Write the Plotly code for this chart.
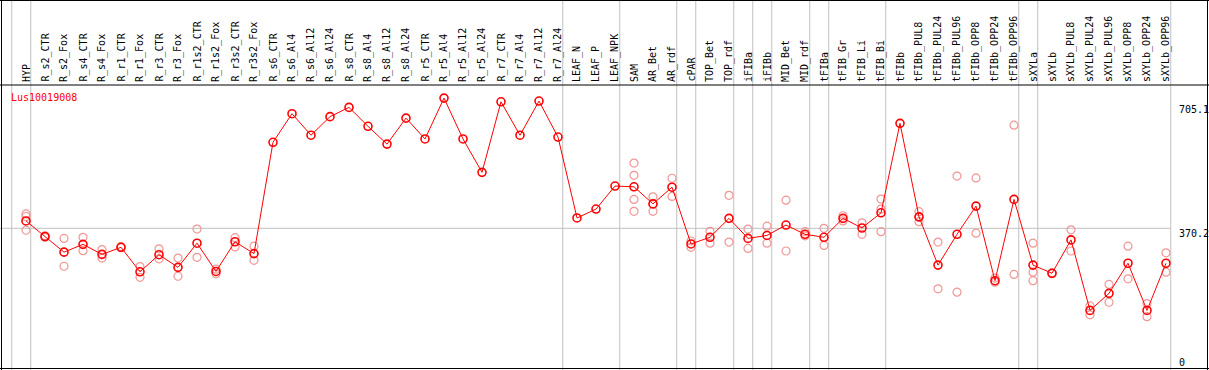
import plotly.graph_objects as go

categories = ["HYP", "R_s2_CTR", "R_s2_Fox", "R_s4_CTR", "R_s4_Fox", "R_r1_CTR", "R_r1_Fox",
              "R_r3_CTR", "R_r3_Fox", "R_r1s2_CTR", "R_r1s2_Fox", "R_r3s2_CTR", "R_r3s2_Fox",
              "R_s6_CTR", "R_s6_Al4", "R_s6_Al12", "R_s6_Al24", "R_s8_CTR", "R_s8_Al4",
              "R_s8_Al12", "R_s8_Al24", "R_r5_CTR", "R_r5_Al4", "R_r5_Al12", "R_r5_Al24",
              "R_r7_CTR", "R_r7_Al4", "R_r7_Al12", "R_r7_Al24", "LEAF_N", "LEAF_P", "LEAF_NPK",
              "SAM", "AR_Bet", "AR_rdf", "cPAR", "TOP_Bet", "TOP_rdf", "iFIBa", "iFIBb",
              "MID_Bet", "MID_rdf", "tFIBa", "tFIB_Gr", "tFIB_Li", "tFIB_Bi", "tFIBb",
              "tFIBb_PUL8", "tFIBb_PUL24", "tFIBb_PUL96", "tFIBb_OPP8", "tFIBb_OPP24",
              "tFIBb_OPP96", "sXYLa", "sXYLb", "sXYLb_PUL8", "sXYLb_PUL24", "sXYLb_PUL96",
              "sXYLb_OPP8", "sXYLb_OPP24", "sXYLb_OPP96"]

means = [390, 348, 306, 327, 300, 319, 253, 299, 265, 330, 254, 334, 302,
         602, 679, 621, 671, 696, 645, 597, 667, 611, 721, 611, 521, 711, 621, 713, 616,
         398, 422, 484, 482, 436, 481, 328, 346, 397, 343, 351, 379, 354, 346, 397, 371,
         412, 653, 401, 271, 354, 430, 229, 448, 271, 249, 339, 149, 195, 276, 149, 276]

replicates = [[409, 402, 365], [346, 350], [343, 268], [346, 310], [313, 290], [318, 321],
              [267, 238], [315, 288], [290, 241], [368, 292], [260, 248], [345, 320],
              [322, 284],
              [], [], [], [], [], [], [], [], [], [], [], [], [], [], [], [],
              [], [], [],
              [546, 513, 448, 416], [455, 416, 436], [505, 456], [319, 336], [362, 330],
              [459, 333], [368, 316], [376, 330], [446, 309], [361, 350], [370, 324],
              [390, 404], [385, 354], [449, 422, 361], [],
              [415, 388, 400], [333, 207], [511, 198], [506, 357], [236, 225], [648, 246],
              [330, 252, 229], [248, 250], [366, 309], [161, 137], [219, 171], [322, 234],
              [167, 132], [304, 252]]

gene_name = "Lus10019008"
axis_ticks = [705.1, 370.2, 0]
group_breaks = [-1, 0, 28, 31, 34, 35, 37, 38, 39, 41, 42, 45, 52, 53, 60]

W, H = 1209, 370
TOP = 85
x_idx = list(range(len(categories)))

rep_x, rep_y = [], []
for i, reps in enumerate(replicates):
    for v in reps:
        rep_x.append(i)
        rep_y.append(v)

fig = go.Figure()
fig.add_trace(go.Scatter(x=rep_x, y=rep_y, mode="markers",
                         marker=dict(symbol="circle-open", size=8, color="rgb(240,150,150)",
                                     line=dict(width=1.2, color="rgb(240,150,150)")),
                         hoverinfo="skip", showlegend=False))
fig.add_trace(go.Scatter(x=x_idx, y=means, mode="lines+markers",
                         line=dict(color="#ff0000", width=1),
                         marker=dict(symbol="circle-open", size=8, color="#ff0000",
                                     line=dict(width=1.6, color="#ff0000")),
                         showlegend=False))

px_per_cat = 19.0
x0 = -26.0 / px_per_cat
x1 = x0 + W / px_per_cat
zero_px = 365.7
px_per_unit = (zero_px - 228.3) / 370.2
y_top = (zero_px - TOP) / px_per_unit
y_bot = (zero_px - H) / px_per_unit

shapes = []
ytop_paper = H / (H - TOP)
for b in group_breaks:
    shapes.append(dict(type="line", xref="x", yref="paper", x0=b + 0.25, x1=b + 0.25,
                       y0=0, y1=ytop_paper, line=dict(color="#c0c0c0", width=1), layer="below"))
shapes.append(dict(type="line", xref="x", yref="y", x0=x0, x1=group_breaks[-1] + 0.25,
                   y0=axis_ticks[1], y1=axis_ticks[1], line=dict(color="#c0c0c0", width=1),
                   layer="below"))
black = dict(color="black", width=1)
shapes.append(dict(type="line", xref="paper", yref="paper", x0=0, x1=1, y0=1, y1=1, line=black))
shapes.append(dict(type="line", xref="paper", yref="paper", x0=0, x1=1,
                   y0=ytop_paper - 0.5 / (H - TOP), y1=ytop_paper - 0.5 / (H - TOP), line=black))
shapes.append(dict(type="line", xref="paper", yref="paper", x0=0, x1=1,
                   y0=1.5 / (H - TOP), y1=1.5 / (H - TOP), line=black))
shapes.append(dict(type="line", xref="paper", yref="paper", x0=1.5 / W, x1=1.5 / W,
                   y0=0, y1=ytop_paper, line=black))
shapes.append(dict(type="line", xref="paper", yref="paper", x0=1 - 1.5 / W, x1=1 - 1.5 / W,
                   y0=0, y1=ytop_paper, line=black))

mono = "DejaVu Sans Mono, Liberation Mono, monospace"
annotations = []
for i, c in enumerate(categories):
    annotations.append(dict(x=i, y=1, xref="x", yref="paper", text=c, showarrow=False,
                            textangle=-90, xanchor="center", yanchor="bottom", yshift=1,
                            font=dict(family=mono, size=10, color="black")))
annotations.append(dict(x=8.5 / W, y=(H - 97.5) / (H - TOP), xref="paper", yref="paper",
                        text=gene_name, showarrow=False, xanchor="left", yanchor="middle",
                        font=dict(family=mono, size=10, color="#ff0000")))
for k, t in enumerate(axis_ticks):
    annotations.append(dict(x=1177.0 / W, y=t, xref="paper", yref="y", text=str(t),
                            showarrow=False, xanchor="left",
                            yanchor="bottom" if t == 0 else "top",
                            yshift=-4 if t == 0 else 2,
                            font=dict(family=mono, size=10, color="black")))

fig.update_layout(
    width=W, height=H,
    margin=dict(l=0, r=0, t=TOP, b=0, pad=0),
    paper_bgcolor="white", plot_bgcolor="white",
    xaxis=dict(range=[x0, x1], showgrid=False, zeroline=False, showticklabels=False,
               showline=False, fixedrange=True),
    yaxis=dict(range=[y_bot, y_top], showgrid=False, zeroline=False, showticklabels=False,
               showline=False, fixedrange=True),
    shapes=shapes, annotations=annotations, showlegend=False,
)

fig.write_html("out.html", config={"displayModeBar": False},
               post_script="document.body.style.margin='0px';document.body.style.overflow='hidden';")
